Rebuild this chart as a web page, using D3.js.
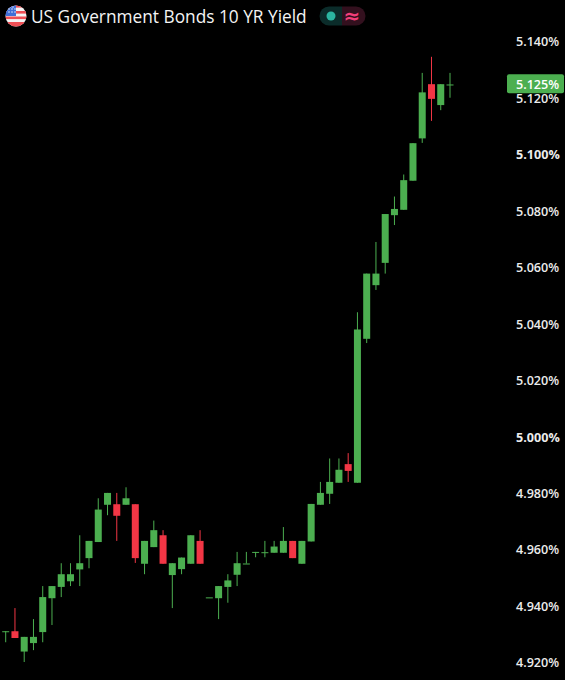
<!DOCTYPE html>
<html><head><meta charset="utf-8">
<script src="https://cdn.jsdelivr.net/npm/d3@7"></script>
<style>html,body{margin:0;padding:0;background:#000;overflow:hidden}svg{display:block}</style>
</head><body><svg id="c" width="565" height="680"></svg>
<script>
const title = "US Government Bonds 10 YR Yield";
const opens  = [4.9308,4.9309,4.9237,4.9267,4.9306,4.9426,4.9466,4.9486,4.9528,4.9568,4.9625,4.9757,4.9759,4.9757,4.9759,4.9548,4.9607,4.9649,4.9508,4.9529,4.9548,4.9629,4.9429,4.9426,4.9466,4.9509,4.9549,4.9590,4.9589,4.9587,4.9587,4.9629,4.9548,4.9627,4.9757,4.9796,4.9835,4.9901,4.9835,5.0345,5.0535,5.0614,5.0783,5.0802,5.0905,5.1055,5.1247,5.1173,5.1246];
const highs  = [4.9309,4.9391,4.9289,4.9352,4.9469,4.9469,4.9550,4.9550,4.9649,4.9629,4.9780,4.9799,4.9799,4.9819,4.9759,4.9629,4.9701,4.9667,4.9550,4.9570,4.9649,4.9667,4.9429,4.9469,4.9511,4.9590,4.9590,4.9590,4.9629,4.9629,4.9678,4.9629,4.9629,4.9760,4.9838,4.9921,4.9921,4.9940,5.0439,5.0576,5.0688,5.0787,5.0849,5.0927,5.1038,5.1287,5.1344,5.1247,5.1287];
const lows   = [4.9270,4.9285,4.9200,4.9242,4.9270,4.9331,4.9430,4.9469,4.9469,4.9532,4.9625,4.9720,4.9629,4.9757,4.9551,4.9511,4.9607,4.9548,4.9391,4.9511,4.9548,4.9548,4.9429,4.9352,4.9410,4.9469,4.9549,4.9571,4.9571,4.9587,4.9587,4.9568,4.9548,4.9627,4.9757,4.9760,4.9835,4.9838,4.9835,5.0330,5.0518,5.0576,5.0748,5.0802,5.0905,5.1039,5.1117,5.1155,5.1199];
const closes = [4.9309,4.9285,4.9289,4.9289,4.9430,4.9469,4.9511,4.9511,4.9550,4.9629,4.9740,4.9799,4.9718,4.9780,4.9568,4.9629,4.9667,4.9548,4.9550,4.9570,4.9649,4.9548,4.9429,4.9469,4.9489,4.9550,4.9549,4.9590,4.9589,4.9609,4.9629,4.9568,4.9629,4.9760,4.9799,4.9838,4.9881,4.9877,5.0378,5.0576,5.0576,5.0787,5.0805,5.0907,5.1038,5.1218,5.1195,5.1247,5.1246];
const tickValues = [5.14,5.12,5.10,5.08,5.06,5.04,5.02,5.00,4.98,4.96,4.94,4.92];
const boldTicks = [5.10,5.00];
const lastPrice = 5.125;

const UP="#4caf50", DOWN="#f23645";
const svg=d3.select("#c");
const font="'Open Sans','Noto Sans',sans-serif";
svg.append("rect").attr("width",565).attr("height",680).attr("fill","#000");

const y=d3.scaleLinear().domain([4.92,5.14]).range([662,41]);
const x=d3.scaleLinear().domain([0,48]).range([5.7,450]);
const bw=7;
const data=opens.map((o,i)=>({i,o,h:highs[i],l:lows[i],c:closes[i]}));
const col=d=>d.c<d.o?DOWN:UP;
const g=svg.append("g");
g.selectAll("line.w").data(data).join("line").attr("class","w")
 .attr("x1",d=>x(d.i)).attr("x2",d=>x(d.i)).attr("y1",d=>y(d.h)).attr("y2",d=>y(d.l))
 .attr("stroke",col).attr("stroke-width",1);
g.selectAll("rect.b").data(data).join("rect").attr("class","b")
 .attr("x",d=>x(d.i)-bw/2).attr("width",bw)
 .attr("y",d=>y(Math.max(d.o,d.c)))
 .attr("height",d=>Math.max(1,Math.abs(y(d.o)-y(d.c))))
 .attr("fill",col);

const axis=d3.axisRight(y).tickValues(tickValues).tickSize(0).tickPadding(0).tickFormat(d=>d3.format(".3f")(d)+"%");
const ag=svg.append("g").attr("transform","translate(516,0.8)").call(axis);
ag.select(".domain").remove();
ag.selectAll("text").attr("fill","#ececec").attr("font-family",font).attr("font-size",12.6)
 .attr("font-weight",d=>boldTicks.includes(d)?700:600);

svg.append("rect").attr("x",507).attr("width",57).attr("y",y(lastPrice)-9).attr("height",19).attr("rx",2).attr("fill",UP);
svg.append("text").attr("x",516).attr("y",y(lastPrice)+0.8).attr("dy","0.36em").attr("fill","#fff").attr("font-family",font).attr("font-size",12.6).attr("font-weight",600).text(d3.format(".3f")(lastPrice)+"%");

// flag icon
const defs=svg.append("defs");
defs.append("clipPath").attr("id","fc").append("circle").attr("cx",16).attr("cy",16).attr("r",10.5);
const f=svg.append("g").attr("clip-path","url(#fc)");
f.append("rect").attr("x",5).attr("y",5).attr("width",22).attr("height",22).attr("fill","#f4f4f4");
const stripes=[5,11,16.5,22];
f.selectAll("rect.s").data(stripes).join("rect").attr("class","s").attr("x",5).attr("y",d=>d).attr("width",22).attr("height",d=>d===22?5:2.6).attr("fill","#ef4f55");
f.append("rect").attr("x",5).attr("y",5).attr("width",11).attr("height",11).attr("fill","#3f6fd8");
const stars=[[9,9],[12,9],[15,9],[9,12],[12,12],[15,12],[10,7],[13,7]];
f.selectAll("circle.st").data(stars).join("circle").attr("class","st").attr("cx",d=>d[0]).attr("cy",d=>d[1]).attr("r",0.7).attr("fill","#fff");

svg.append("text").attr("x",31).attr("y",17).attr("dy","0.36em").attr("fill","#f4f4f4").attr("font-family",font).attr("font-size",17.3).attr("font-weight",500).text(title);

// status pill
svg.append("path").attr("d","M342,6.5H329a9.5,9.5 0 0 0 0,19H342Z").attr("fill","#0b2c2a");
svg.append("path").attr("d","M342,6.5H356a9.5,9.5 0 0 1 0,19H342Z").attr("fill","#33101e");
svg.append("circle").attr("cx",331).attr("cy",16).attr("r",4.5).attr("fill","#2bb5a0");
svg.append("text").attr("x",352).attr("y",16).attr("dy","0.36em").attr("text-anchor","middle").attr("fill","#f23f7a").attr("font-family","'DejaVu Sans',sans-serif").attr("font-size",20).attr("font-weight",700).text("≈");
</script></body></html>
